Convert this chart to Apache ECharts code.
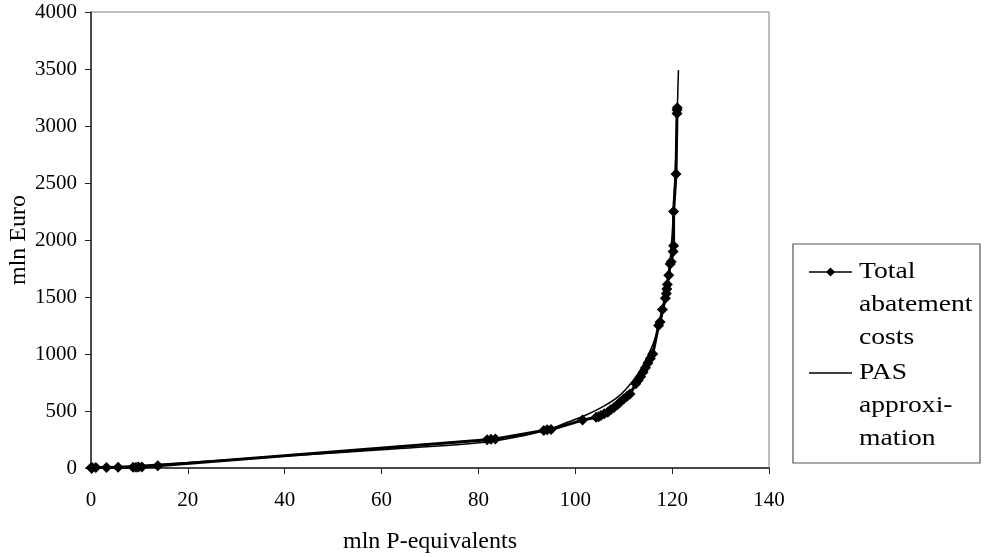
<!DOCTYPE html>
<html>
<head>
<meta charset="utf-8">
<script src="https://cdn.jsdelivr.net/npm/echarts@6/dist/echarts.min.js"></script>
<style>
  html, body { margin: 0; padding: 0; background: #fff; }
  #chart { width: 985px; height: 557px; }
</style>
</head>
<body>
<div id="chart"></div>
<script>
// total abatement costs (mln P-eq, mln Euro)
var totalCosts = [
  [0, 2], [0.3, 3], [1, 4], [3.2, 5], [5.6, 6], [8.7, 7], [9.3, 7], [9.8, 8], [10.5, 9], [13.8, 20],
  [81.8, 248], [82.6, 252], [83.5, 255],
  [93.5, 330], [94.2, 335], [95, 338],
  [101.5, 420],
  [104.3, 445], [104.8, 450], [105.3, 460], [106, 475], [106.7, 490], [107.3, 510], [108, 530],
  [108.7, 555], [109.3, 580], [110, 605], [110.7, 630], [111.3, 650],
  [112.5, 740], [113, 770], [113.5, 800], [114, 840], [114.5, 880], [115, 920], [115.5, 960], [116, 1000],
  [117.2, 1250], [117.5, 1280], [118, 1390], [118.6, 1490], [118.8, 1530], [118.9, 1570], [119, 1610],
  [119.3, 1690], [119.6, 1790], [119.8, 1810], [120.2, 1900], [120.3, 1950], [120.3, 2250],
  [120.8, 2580], [121, 3110], [121, 3140], [121.05, 3160]
];
// PAS approximation curve
var pasApprox = [
  [0, 0], [5, 10], [10, 22], [20, 48], [40, 105], [60, 160], [82, 228], [90, 290], [94, 330],
  [98, 395], [102, 460], [106, 545], [109, 630], [112, 770], [114, 900], [116, 1080],
  [117.5, 1270], [118.5, 1450], [119.3, 1700], [120, 2050], [120.6, 2550], [121, 3050], [121.3, 3490]
];
var xTicks = [0, 20, 40, 60, 80, 100, 120, 140];
var yTicks = [0, 500, 1000, 1500, 2000, 2500, 3000, 3500, 4000];
var legendNames = ['Total\nabatement\ncosts', 'PAS\napproxi-\nmation'];

var font = 'Liberation Serif';
var chart = echarts.init(document.getElementById('chart'));

var option = {
  animation: false,
  backgroundColor: '#fff',
  grid: {
    left: 91, right: 216, top: 12, bottom: 89,
    outerBoundsMode: 'none',
    containLabel: false,
    show: true, borderColor: '#808080', borderWidth: 1
  },
  xAxis: {
    type: 'value',
    min: xTicks[0], max: xTicks[xTicks.length - 1], interval: 20,
    name: 'mln P-equivalents',
    nameLocation: 'middle', nameGap: 62,
    nameMoveOverlap: false,
    nameTextStyle: { fontFamily: font, fontSize: 24, color: '#000' },
    axisLine: { show: true, lineStyle: { color: '#222', width: 1.5 } },
    axisTick: { show: true, inside: false, length: 6, lineStyle: { color: '#222' } },
    axisLabel: { fontFamily: font, fontSize: 21, color: '#000', margin: 22,
      formatter: function (v) { return String(v); } },
    splitLine: { show: false }
  },
  yAxis: {
    type: 'value',
    min: yTicks[0], max: yTicks[yTicks.length - 1], interval: 500,
    name: 'mln Euro',
    nameLocation: 'middle', nameGap: 60,
    nameMoveOverlap: false,
    nameTextStyle: { fontFamily: font, fontSize: 24, color: '#000' },
    axisLine: { show: true, lineStyle: { color: '#222', width: 1.5 } },
    axisTick: { show: true, inside: false, length: 6, lineStyle: { color: '#222' } },
    axisLabel: { fontFamily: font, fontSize: 21, color: '#000', margin: 14,
      formatter: function (v) { return String(v); } },
    splitLine: { show: false }
  },
  series: [
    {
      name: legendNames[0],
      type: 'line',
      data: totalCosts,
      symbol: 'diamond',
      symbolSize: 11,
      showAllSymbol: true,
      itemStyle: { color: '#000' },
      lineStyle: { color: '#000', width: 3 },
      z: 3
    },
    {
      name: legendNames[1],
      type: 'line',
      data: pasApprox,
      smooth: 0.3,
      symbol: 'none',
      lineStyle: { color: '#000', width: 1.5 },
      z: 2
    }
  ],
  graphic: [
    {
      type: 'rect',
      shape: { x: 793, y: 244, width: 187, height: 219 },
      style: { fill: '#fff', stroke: '#555', lineWidth: 1.2 }
    },
    {
      type: 'line',
      shape: { x1: 809, y1: 272, x2: 852, y2: 272 },
      style: { stroke: '#000', lineWidth: 1.5 }
    },
    {
      type: 'polygon',
      shape: { points: [[830.5, 267.5], [835, 272], [830.5, 276.5], [826, 272]] },
      style: { fill: '#000' }
    },
    {
      type: 'text', x: 859, y: 255, scaleX: 1.15,
      style: { text: legendNames[0], font: '24px "Liberation Serif"', fill: '#000', lineHeight: 33 }
    },
    {
      type: 'line',
      shape: { x1: 809, y1: 373, x2: 852, y2: 373 },
      style: { stroke: '#000', lineWidth: 1.5 }
    },
    {
      type: 'text', x: 859, y: 356, scaleX: 1.15,
      style: { text: legendNames[1], font: '24px "Liberation Serif"', fill: '#000', lineHeight: 33 }
    }
  ]
};
chart.setOption(option);
</script>
</body>
</html>
